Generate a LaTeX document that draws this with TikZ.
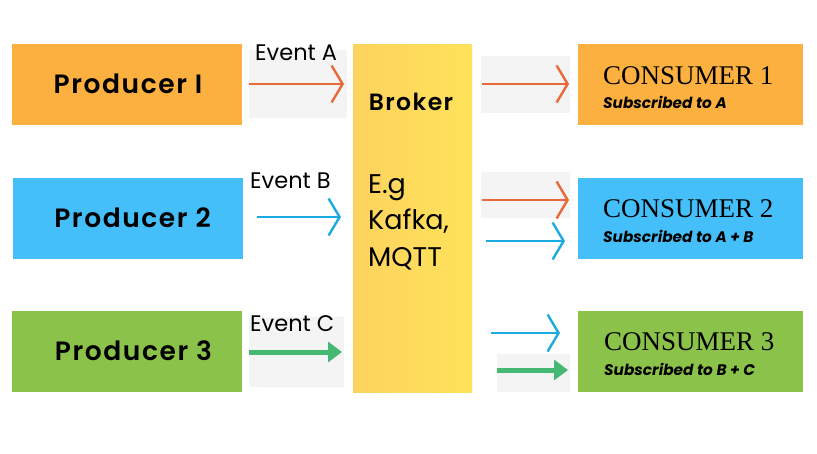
\documentclass[tikz,border=0pt]{standalone}
\usepackage{fontspec}
\setmainfont{Poppins}
\newfontfamily\popfont{Poppins}
\newfontfamily\popwide[LetterSpace=6]{Poppins SemiBold}
\newfontfamily\consfont{Liberation Serif}
\usetikzlibrary{arrows.meta}
\definecolor{boxorange}{HTML}{FBB040}
\definecolor{boxblue}{HTML}{45BFF9}
\definecolor{boxgreen}{HTML}{8BC34A}
\definecolor{arrred}{HTML}{E8683A}
\definecolor{arrblue}{HTML}{1AABE3}
\definecolor{arrgreen}{HTML}{45B874}
\definecolor{bggray}{HTML}{F4F4F4}
\definecolor{brokerA}{HTML}{FDD35E}
\definecolor{brokerB}{HTML}{FFE25A}
\tikzset{
  pbox/.style={rectangle, minimum width=230pt, minimum height=81pt, inner sep=0pt},
  ptext/.style={inner sep=0pt, font=\popwide\fontsize{26.5}{30}\selectfont},
  cbox/.style={rectangle, minimum width=225pt, minimum height=81pt, inner sep=0pt, anchor=north west},
  graybg/.style={fill=bggray, draw=none},
  evlabel/.style={font=\popfont\fontsize{22.5}{25}\selectfont, inner sep=0pt, anchor=base west},
  openarr/.style={line width=2.4pt, -{Straight Barb[length=11pt,width=37pt,line width=2.4pt]}},
  redarr/.style={openarr, draw=arrred},
  bluearr/.style={openarr, draw=arrblue},
  greenarr/.style={draw=arrgreen, line width=5pt, -{Triangle[length=14pt,width=20pt]}},
  ctitle/.style={font=\consfont\fontsize{27}{30}\selectfont, anchor=base west, inner sep=0pt},
  csub/.style={font=\popfont\bfseries\itshape\fontsize{15.3}{17}\selectfont, anchor=base west, inner sep=0pt},
}
\begin{document}
\begin{tikzpicture}[x=1pt,y=-1pt]
\useasboundingbox[fill=white] (0,0) rectangle (817,453);

% producers
\node[pbox, fill=boxorange] (p1) at (127,84.5) {};
\node[pbox, fill=boxblue] (p2) at (127.5,218) {};
\node[pbox, fill=boxgreen] (p3) at (127,351.5) {};
\node[ptext] (p1t) at (128,84) {Producer I};
\node[ptext] (p2t) at (132.5,218) {Producer 2};
\node[ptext] (p3t) at (133.5,351) {Producer 3};

% broker
\shade[left color=brokerA, right color=brokerB] (353,44) rectangle (472,392);
\node[inner sep=0pt] (broker) at (412.5,218) {};
\node[font=\popwide\fontsize{23.5}{26}\selectfont, inner sep=0pt, anchor=base] (brokertitle) at (411,110) {Broker};
\node[font=\popfont\fontsize{27}{36.5}\selectfont, inner sep=0pt, anchor=base west, align=left] (brokertext) at (368,193) {E.g};
\node[font=\popfont\fontsize{27}{36.5}\selectfont, inner sep=0pt, anchor=base west] (brokertext2) at (368,229.5) {Kafka,};
\node[font=\popfont\fontsize{27}{36.5}\selectfont, inner sep=0pt, anchor=base west] (brokertext3) at (368,266) {MQTT};

% consumers
\node[cbox, fill=boxorange] (c1) at (578,44) {};
\node[cbox, fill=boxblue] (c2) at (578,178) {};
\node[cbox, fill=boxgreen] (c3) at (578,311) {};
\node[ctitle] (c1t) at (603,84) {CONSUMER 1};
\node[csub] (c1s) at (603,108) {Subscribed to A};
\node[ctitle] (c2t) at (603,217) {CONSUMER 2};
\node[csub] (c2s) at (603,242) {Subscribed to A + B};
\node[ctitle] (c3t) at (604,350) {CONSUMER 3};
\node[csub] (c3s) at (604,375) {Subscribed to B + C};

% gray backgrounds
\fill[graybg] (249,50) rectangle (347,118);
\fill[graybg] (249,317) rectangle (344,387);
\fill[graybg] (481,56) rectangle (570,113);
\fill[graybg] (481,172) rectangle (570,218);
\fill[graybg] (497,354) rectangle (570,392);

% arrow end coordinates
\coordinate (a1s) at (249,84);  \coordinate (a1e) at (344,84);
\coordinate (b1s) at (257,217); \coordinate (b1e) at (341,217);
\coordinate (g1s) at (249,352); \coordinate (g1e) at (342,352);
\coordinate (a2s) at (482,84);  \coordinate (a2e) at (569,84);
\coordinate (a3s) at (482,200); \coordinate (a3e) at (569,200);
\coordinate (b2s) at (486,241); \coordinate (b2e) at (565,241);
\coordinate (b3s) at (491,333); \coordinate (b3e) at (560,333);
\coordinate (g2s) at (497,370); \coordinate (g2e) at (568,370);

\draw[redarr] (a1s) -- (a1e);
\draw[bluearr] (b1s) -- (b1e);
\draw[greenarr] (g1s) -- (g1e);
\draw[redarr] (a2s) -- (a2e);
\draw[redarr] (a3s) -- (a3e);
\draw[bluearr] (b2s) -- (b2e);
\draw[bluearr] (b3s) -- (b3e);
\draw[greenarr] (g2s) -- (g2e);

% event labels
\node[evlabel] (ea) at (255,60) {Event A};
\node[evlabel] (eb) at (250,188) {Event B};
\node[evlabel] (ec) at (250,331) {Event C};
\end{tikzpicture}
\end{document}
